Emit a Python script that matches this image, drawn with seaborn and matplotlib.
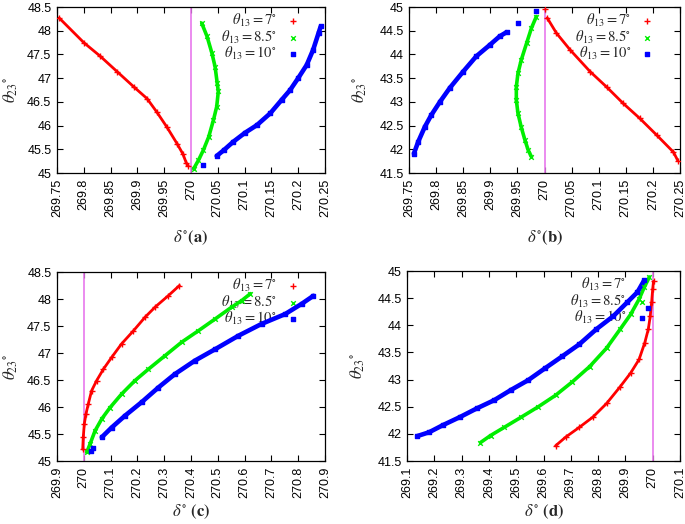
import numpy as np
import pandas as pd
import matplotlib
matplotlib.use('Agg')
import matplotlib.pyplot as plt
import seaborn as sns

sns.set_theme(style='ticks')
plt.rcParams['font.family'] = ['Liberation Sans', 'DejaVu Sans']
plt.rcParams['mathtext.fontset'] = 'stix'

# ---------------- data ----------------
series_labels = [r'$\theta_{13} = 7^{\circ}$', r'$\theta_{13} = 8.5^{\circ}$', r'$\theta_{13} = 10^{\circ}$']

# panel (a)
a_red_x = [269.754, 269.800, 269.831, 269.862, 269.893, 269.918, 269.936, 269.955, 269.974, 269.985, 269.991, 269.995]
a_red_y = [48.27, 47.75, 47.46, 47.14, 46.82, 46.57, 46.29, 45.97, 45.62, 45.40, 45.22, 45.15]
a_green_x = [270.020, 270.030, 270.039, 270.045, 270.049, 270.051, 270.048, 270.042, 270.033, 270.023, 270.014, 270.005]
a_green_y = [48.16, 47.88, 47.53, 47.24, 46.89, 46.72, 46.40, 46.12, 45.76, 45.48, 45.27, 45.09]
a_blue_x = [270.048, 270.061, 270.079, 270.101, 270.123, 270.148, 270.169, 270.185, 270.200, 270.216, 270.228, 270.238, 270.242]
a_blue_y = [45.36, 45.48, 45.66, 45.85, 46.01, 46.26, 46.54, 46.75, 47.00, 47.28, 47.60, 47.95, 48.09]
a_blue_extra_x = [270.022]
a_blue_extra_y = [45.16]

# panel (b)
b_red_x = [270.005, 270.022, 270.047, 270.084, 270.115, 270.145, 270.176, 270.207, 270.238, 270.246]
b_red_y = [44.77, 44.45, 44.10, 43.64, 43.31, 42.97, 42.65, 42.30, 41.94, 41.76]
b_red_extra_x = [270.000]
b_red_extra_y = [44.95]
b_green_x = [269.985, 269.976, 269.967, 269.957, 269.951, 269.948, 269.948, 269.951, 269.957, 269.964, 269.970, 269.976]
b_green_y = [44.80, 44.56, 44.24, 43.88, 43.60, 43.32, 43.04, 42.76, 42.47, 42.19, 41.98, 41.84]
b_blue_x = [269.759, 269.767, 269.779, 269.791, 269.807, 269.825, 269.850, 269.874, 269.899, 269.917, 269.930]
b_blue_y = [41.91, 42.16, 42.47, 42.72, 43.00, 43.29, 43.64, 43.96, 44.20, 44.38, 44.47]
b_blue_extra_x = [269.951, 269.985]
b_blue_extra_y = [44.66, 44.92]

# panel (c)
c_red_x = [269.996, 269.998, 270.002, 270.008, 270.017, 270.029, 270.048, 270.073, 270.104, 270.141, 270.185, 270.228, 270.266, 270.315, 270.357]
c_red_y = [45.22, 45.44, 45.69, 45.87, 46.06, 46.30, 46.49, 46.70, 46.92, 47.17, 47.41, 47.66, 47.85, 48.06, 48.25]
c_green_x = [270.011, 270.023, 270.042, 270.067, 270.098, 270.141, 270.191, 270.241, 270.303, 270.365, 270.427, 270.490, 270.552, 270.589, 270.622]
c_green_y = [45.16, 45.31, 45.56, 45.78, 45.99, 46.24, 46.49, 46.70, 46.95, 47.20, 47.41, 47.63, 47.85, 47.97, 48.10]
c_blue_x = [270.067, 270.104, 270.154, 270.216, 270.278, 270.340, 270.415, 270.490, 270.577, 270.664, 270.751, 270.813, 270.857]
c_blue_y = [45.44, 45.62, 45.84, 46.09, 46.36, 46.61, 46.86, 47.07, 47.32, 47.54, 47.72, 47.91, 48.06]
c_blue_extra_x = [270.027, 270.035]
c_blue_extra_y = [45.19, 45.24]

# panel (d)
d_red_x = [269.644, 269.681, 269.731, 269.781, 269.831, 269.881, 269.919, 269.950, 269.971, 269.984, 269.991, 269.996, 270.000, 270.003]
d_red_y = [41.78, 41.94, 42.12, 42.31, 42.56, 42.87, 43.12, 43.37, 43.68, 43.93, 44.17, 44.42, 44.67, 44.81]
d_green_x = [269.369, 269.406, 269.456, 269.519, 269.581, 269.644, 269.706, 269.769, 269.831, 269.881, 269.919, 269.950, 269.969, 269.988]
d_green_y = [41.84, 41.97, 42.12, 42.31, 42.50, 42.71, 42.96, 43.24, 43.58, 43.93, 44.20, 44.48, 44.70, 44.89]
d_blue_x = [269.138, 269.181, 269.231, 269.294, 269.356, 269.419, 269.481, 269.544, 269.606, 269.669, 269.731, 269.794, 269.856, 269.906, 269.944, 269.969]
d_blue_y = [41.96, 42.03, 42.16, 42.31, 42.47, 42.62, 42.81, 42.99, 43.21, 43.43, 43.65, 43.93, 44.17, 44.42, 44.61, 44.83]
d_blue_extra_x = [269.981]
d_blue_extra_y = [44.31]

# ticks
ab_xticks = [269.75, 269.8, 269.85, 269.9, 269.95, 270.0, 270.05, 270.1, 270.15, 270.2, 270.25]
ab_xlabels = ['269.75', '269.8', '269.85', '269.9', '269.95', '270', '270.05', '270.1', '270.15', '270.2', '270.25']
c_xticks = [269.9, 270.0, 270.1, 270.2, 270.3, 270.4, 270.5, 270.6, 270.7, 270.8, 270.9]
c_xlabels = ['269.9', '270', '270.1', '270.2', '270.3', '270.4', '270.5', '270.6', '270.7', '270.8', '270.9']
d_xticks = [269.1, 269.2, 269.3, 269.4, 269.5, 269.6, 269.7, 269.8, 269.9, 270.0, 270.1]
d_xlabels = ['269.1', '269.2', '269.3', '269.4', '269.5', '269.6', '269.7', '269.8', '269.9', '270', '270.1']
hi_yticks = [45, 45.5, 46, 46.5, 47, 47.5, 48, 48.5]
hi_ylabels = ['45', '45.5', '46', '46.5', '47', '47.5', '48', '48.5']
lo_yticks = [41.5, 42, 42.5, 43, 43.5, 44, 44.5, 45]
lo_ylabels = ['41.5', '42', '42.5', '43', '43.5', '44', '44.5', '45']

# ---------------- styling ----------------
RED, GREEN, BLUE = '#ff0000', '#00ee00', '#0000ff'
MAGENTA = '#e878ec'
styles = [
    dict(color=RED, marker='+', s=14, lw=2.0),
    dict(color=GREEN, marker='x', s=11, lw=2.6),
    dict(color=BLUE, marker='s', s=7, lw=3.3),
]

fig = plt.figure(figsize=(6.85, 5.24), dpi=100)
positions = {
    'a': [0.0832, 0.6698, 0.3912, 0.3168],
    'b': [0.5971, 0.6698, 0.3956, 0.3168],
    'c': [0.0832, 0.1202, 0.3912, 0.3607],
    'd': [0.5942, 0.1202, 0.3985, 0.3626],
}

panels = {
    'a': dict(curves=[(a_red_x, a_red_y, [], []), (a_green_x, a_green_y, [], []), (a_blue_x, a_blue_y, a_blue_extra_x, a_blue_extra_y)],
              xticks=ab_xticks, xlabels=ab_xlabels, xlim=(269.75, 270.25),
              yticks=hi_yticks, ylabels=hi_ylabels, ylim=(45, 48.5),
              xlabel=r'$\delta^{\circ}\mathbf{(a)}$', legx=0.92, xpad=8, ypad=5),
    'b': dict(curves=[(b_red_x, b_red_y, b_red_extra_x, b_red_extra_y), (b_green_x, b_green_y, [], []), (b_blue_x, b_blue_y, b_blue_extra_x, b_blue_extra_y)],
              xticks=ab_xticks, xlabels=ab_xlabels, xlim=(269.75, 270.25),
              yticks=lo_yticks, ylabels=lo_ylabels, ylim=(41.5, 45),
              xlabel=r'$\delta^{\circ}\mathbf{(b)}$', legx=0.92, xpad=8, ypad=7),
    'c': dict(curves=[(c_red_x, c_red_y, [], []), (c_green_x, c_green_y, [], []), (c_blue_x, c_blue_y, c_blue_extra_x, c_blue_extra_y)],
              xticks=c_xticks, xlabels=c_xlabels, xlim=(269.9, 270.9),
              yticks=hi_yticks, ylabels=hi_ylabels, ylim=(45, 48.5),
              xlabel=r'$\delta^{\circ}\ \mathbf{(c)}$', legx=0.92, xpad=3, ypad=5),
    'd': dict(curves=[(d_red_x, d_red_y, [], []), (d_green_x, d_green_y, [], []), (d_blue_x, d_blue_y, d_blue_extra_x, d_blue_extra_y)],
              xticks=d_xticks, xlabels=d_xlabels, xlim=(269.1, 270.1),
              yticks=lo_yticks, ylabels=lo_ylabels, ylim=(41.5, 45),
              xlabel=r'$\delta^{\circ}\ \mathbf{(d)}$', legx=0.90, xpad=3, ypad=7),
}

for key, p in panels.items():
    ax = fig.add_axes(positions[key])
    ax.axvline(270.0, color=MAGENTA, lw=1.2, zorder=1)
    for (xs, ys, ex, ey), st, lab in zip(p['curves'], styles, series_labels):
        sns.lineplot(x=xs, y=ys, sort=False, estimator=None, color=st['color'], lw=st['lw'], ax=ax, zorder=2)
        sns.scatterplot(x=list(xs) + list(ex), y=list(ys) + list(ey), marker=st['marker'], s=st['s'],
                        color=st['color'], linewidth=1.0, edgecolor=st['color'], ax=ax, zorder=3, label=lab)
    ax.set_xlim(*p['xlim'])
    ax.set_ylim(*p['ylim'])
    ax.set_xticks(p['xticks'])
    ax.set_xticklabels(p['xlabels'], rotation=90)
    ax.set_yticks(p['yticks'])
    ax.set_yticklabels(p['ylabels'])
    ax.tick_params(direction='in', top=True, right=True, length=4, width=0.8, labelsize=9, colors='black', pad=4)
    for sp in ax.spines.values():
        sp.set_visible(True)
        sp.set_linewidth(0.9)
        sp.set_color('black')
    ax.set_xlabel(p['xlabel'], fontsize=12, labelpad=p['xpad'])
    ax.set_ylabel(r'$\theta_{23}{}^{\circ}$', fontsize=12, labelpad=p['ypad'])
    leg = ax.legend(loc='upper right', bbox_to_anchor=(p['legx'], 1.0), markerfirst=False, frameon=False,
                    fontsize=10.5, handlelength=0.8, handletextpad=0.7, labelspacing=-0.05, borderaxespad=0.15,
                    borderpad=0.2, markerscale=1.0)
    leg.set_zorder(1.5)

fig.savefig('out.png', dpi=100)
